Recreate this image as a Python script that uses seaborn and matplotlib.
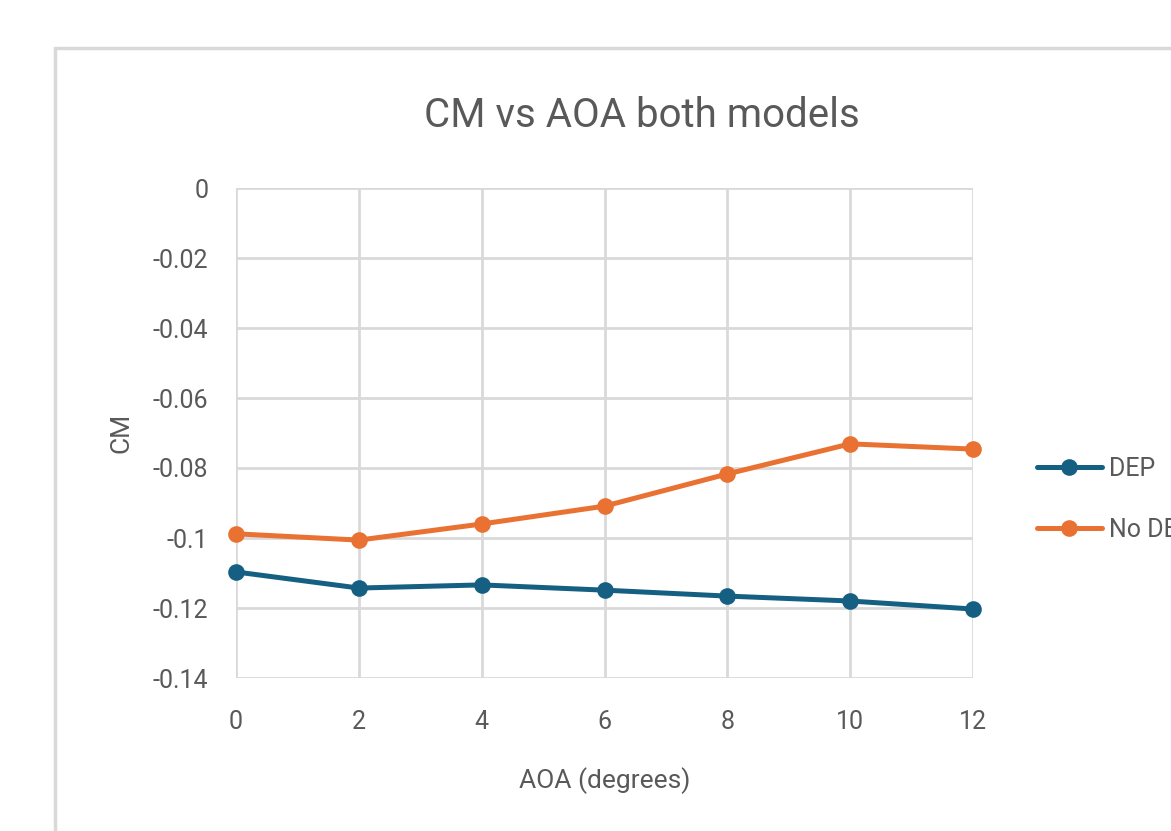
import matplotlib
matplotlib.use("Agg")
import matplotlib.pyplot as plt
import seaborn as sns
import pandas as pd
from matplotlib.patches import Rectangle
from matplotlib.lines import Line2D

aoa = [0, 2, 4, 6, 8, 10, 12]
cm_dep = [-0.1097, -0.1143, -0.1134, -0.1149, -0.1166, -0.1180, -0.1203]
cm_nodep = [-0.0988, -0.1006, -0.0960, -0.0909, -0.0817, -0.0731, -0.0746]
series_names = ["DEP", "No DEP"]
colors = ["#156082", "#E97132"]
yticks = [0, -0.02, -0.04, -0.06, -0.08, -0.1, -0.12, -0.14]
ytick_labels = ["0", "-0.02", "-0.04", "-0.06", "-0.08", "-0.1", "-0.12", "-0.14"]

df = pd.DataFrame({
    "AOA": aoa * 2,
    "CM": cm_dep + cm_nodep,
    "Series": [series_names[0]] * len(aoa) + [series_names[1]] * len(aoa),
})

sns.set_theme(style="white")
plt.rcParams["font.family"] = ["Roboto", "DejaVu Sans"]

fig = plt.figure(figsize=(11.71, 8.31), dpi=100)
fig.patch.set_facecolor("white")
ax = fig.add_axes([236/1171, 1-678/831, (973-236)/1171, (678-188)/831])

# chart area border
fig.patches.append(Rectangle((55/1171, -0.05), 1.2, 1-48/831+0.05, transform=fig.transFigure,
                             fill=False, edgecolor="#d9d9d9", linewidth=2.5, zorder=0))

sns.lineplot(data=df, x="AOA", y="CM", hue="Series", palette=colors, marker="o",
             markersize=12, linewidth=3.6, markeredgewidth=0, ax=ax, legend=False, zorder=3)

ax.set_xlim(0, 12)
ax.set_ylim(-0.14, 0)
ax.set_xticks(aoa)
ax.set_xticklabels([str(a) for a in aoa])
ax.set_yticks(yticks)
ax.set_yticklabels(ytick_labels)
ax.grid(True, color="#d9d9d9", linewidth=2)
for s in ax.spines.values():
    s.set_visible(False)
ax.tick_params(axis="both", length=0, labelsize=18, colors="#595959")
ax.tick_params(axis="y", pad=20)
ax.tick_params(axis="x", pad=23)
ax.set_xlabel("AOA (degrees)", fontsize=19, color="#595959", labelpad=24)
ax.set_ylabel("CM", fontsize=19, color="#595959", labelpad=14)
ax.set_title("CM vs AOA both models", fontsize=29, color="#595959", pad=44,
             x=(642-236)/737)
for ln in ax.lines:
    ln.set_clip_on(False)

# legend
handles = [Line2D([0], [0], color=c, marker="o", markersize=12, linewidth=3.6, markeredgewidth=0)
           for c in colors]
fig.legend(handles, series_names, loc="upper left", bbox_to_anchor=(1014/1171, 1-434/831),
           frameon=False, fontsize=18, labelcolor="#595959", handlelength=2.6,
           handletextpad=0.3, labelspacing=1.5)

fig.savefig("out.png", dpi=100, facecolor="white")
